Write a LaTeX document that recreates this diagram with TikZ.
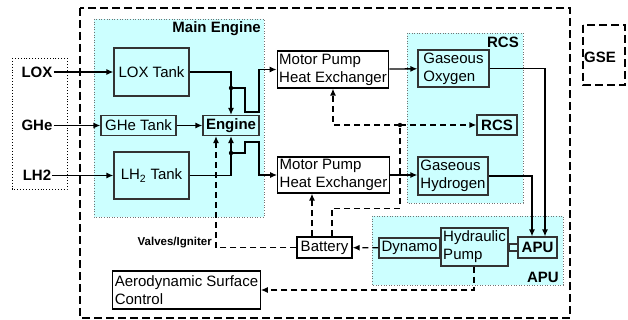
\documentclass[tikz,border=0pt]{standalone}
\usepackage{fontspec}
\setmainfont{Liberation Sans}
\usepackage{xcolor}
\usepackage{tikz}
\usetikzlibrary{positioning}
\usetikzlibrary{arrows.meta}
\definecolor{zonecyan}{HTML}{CCFFFF}

\begin{document}
\begin{tikzpicture}[
        x=1pt, y=-1pt,
        box/.style={rectangle, draw=black, fill=white, line width=1.2pt, inner sep=2pt, align=left, font=\fontsize{15}{18}\selectfont},
        inbox/.style={box, draw=black!80, fill=zonecyan},
        zone/.style={draw=black!55, fill=zonecyan, dotted, line width=0.6pt},
        tag/.style={font=\bfseries\fontsize{15}{18}\selectfont, inner sep=1pt},
        arrow/.style={-{Latex[length=7pt,width=6pt]}, line width=1.3pt, color=black},
        dasharrow/.style={arrow, dash pattern=on 6pt off 4pt},
        border/.style={line width=1.3pt, dash pattern=on 8pt off 4pt}
    ]

        \useasboundingbox (0,0) rectangle (628,320);

        \draw[border] (80,8) rectangle (570,318);
        \draw[border] (583,25) rectangle (625,85);
        \draw[dotted, line width=0.9pt] (12,58) rectangle (67,189);
        \draw[zone] (94,19) rectangle (264,217);
        \draw[zone] (407,33) rectangle (523,203);
        \draw[zone] (372,216) rectangle (563,285);

        \node[tag, anchor=north east] (maintag) at (262,20) {Main Engine};
        \node[tag, anchor=north east] (rcstag) at (520,36) {RCS};
        \node[tag, anchor=south east] (aputag) at (560,284) {APU};
        \node[tag] (gse) at (600,57) {GSE};

        \node[tag] (lox) at (37,72) {LOX};
        \node[tag] (ghe) at (37,125.5) {GHe};
        \node[tag] (lh2) at (37,175.5) {LH2};

        \node[inbox, minimum width=75pt, minimum height=48pt] (loxtank) at (151.5,72) {LOX Tank};
        \node[inbox, minimum width=75pt, minimum height=20pt] (hetank) at (138.5,125.5) {GHe Tank};
        \node[inbox, minimum width=56pt, minimum height=20pt, font=\bfseries\fontsize{15}{18}\selectfont] (engine) at (231,125.5) {Engine};
        \node[inbox, minimum width=75pt, minimum height=47pt] (lhtank) at (151.5,175.5) {LH\textsubscript{2} Tank};

        \node[box, minimum width=110pt, minimum height=37pt] (mphe1) at (333,69.5) {Motor Pump\\Heat Exchanger};
        \node[box, minimum width=111pt, minimum height=36pt] (mphe2) at (333.5,175) {Motor Pump\\Heat Exchanger};

        \node[inbox, minimum width=71pt, minimum height=37pt] (gox) at (453.5,68.5) {Gaseous\\Oxygen};
        \node[inbox, minimum width=40pt, minimum height=20pt, font=\bfseries\fontsize{15}{18}\selectfont] (rcs) at (497,125) {RCS};
        \node[inbox, minimum width=70pt, minimum height=38pt] (gh2) at (453,176) {Gaseous\\Hydrogen};

        \node[inbox, minimum width=61pt, minimum height=20pt] (dynamo) at (409.5,248) {Dynamo};
        \node[inbox, minimum width=67pt, minimum height=38pt] (hpump) at (474.5,247) {Hydraulic\\Pump};
        \node[inbox, minimum width=10pt, minimum height=7pt, inner sep=0pt] (shaft) at (514,247.5) {};
        \node[inbox, minimum width=39pt, minimum height=21pt, font=\bfseries\fontsize{15}{18}\selectfont] (apu) at (537.5,247.5) {APU};

        \node[box, minimum width=55pt, minimum height=21pt] (battery) at (324.5,247.5) {Battery};
        \node[box, minimum width=145pt, minimum height=38pt] (aero) at (186.5,290) {Aerodynamic Surface\\Control};
        \node[font=\bfseries\fontsize{11.5}{13}\selectfont, anchor=east, inner sep=1pt] (valves) at (213,243) {Valves/Igniter};

        \draw[arrow] (lox) -- (loxtank);
        \draw[arrow] (ghe) -- (hetank);
        \draw[arrow] (lh2) -- (lhtank);
        \draw[arrow] (hetank) -- (engine);

        \coordinate (jo) at (231,88);
        \coordinate (jh) at (231,153);
        \coordinate (jr) at (400,125);
        \draw[arrow] (loxtank.east) -| (engine.north);
        \draw[arrow] (lhtank.east) -| (engine.south);
        \draw[arrow] (jo) -- ++(14,0) -- ++(0,24) -- ++(14,0) |- (mphe1.west);
        \draw[arrow] (jh) -- ++(14,0) -- ++(0,-11) -- ++(14,0) |- (mphe2.west);
        \fill (jo) circle (2.2pt);
        \fill (jh) circle (2.2pt);

        \draw[arrow] (mphe1) -- (gox);
        \draw[arrow] (mphe2.east) -- (gh2.west |- mphe2.east);
        \draw[arrow] (gox.east) -| ([xshift=7.5pt]apu.north);
        \draw[arrow] (gh2.east) -| ([xshift=-5.5pt]apu.north);

        \draw[dasharrow] (battery.west) -| ([xshift=-15pt]engine.south);
        \draw[dasharrow] ([xshift=-12.5pt]battery.north) -- ([xshift=-12.5pt]battery.north |- mphe2.south);
        \draw[dash pattern=on 6pt off 4pt, line width=1.3pt] ([xshift=7.5pt]battery.north) -- ++(0,-28) -| (jr);
        \draw[dasharrow] (jr) -| (mphe1.south);
        \draw[dasharrow] (jr) -- (rcs);
        \fill (jr) circle (2.2pt);

        \draw[dasharrow] (dynamo) -- (battery);
        \draw[dasharrow] ([xshift=-0.5pt]hpump.south) |- (aero.east);
    \end{tikzpicture}
\end{document}
